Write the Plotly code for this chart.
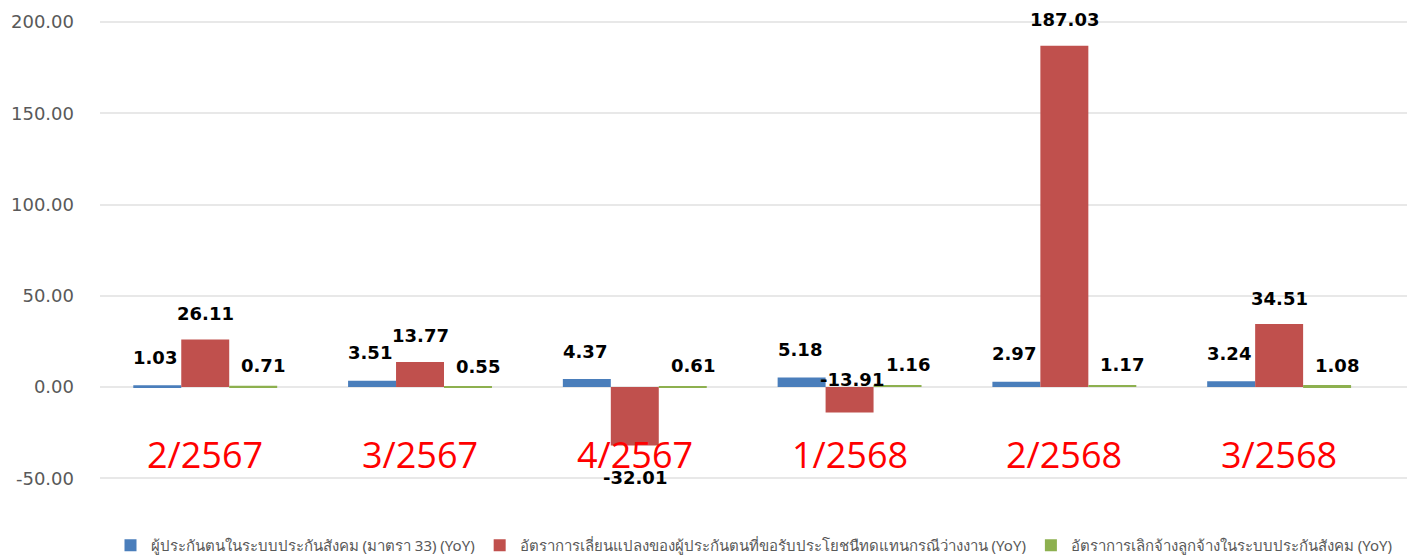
import plotly.graph_objects as go

categories = ["2/2567", "3/2567", "4/2567", "1/2568", "2/2568", "3/2568"]
series_names = [
    "ผู้ประกันตนในระบบประกันสังคม (มาตรา 33) (YoY)",
    "อัตราการเลี่ยนแปลงของผู้ประกันตนที่ขอรับประโยชนืทดแทนกรณีว่างงาน (YoY)",
    "อัตราการเลิกจ้างลูกจ้างในระบบประกันสังคม (YoY)",
]
insured = [1.03, 3.51, 4.37, 5.18, 2.97, 3.24]
unemployment_claims = [26.11, 13.77, -32.01, -13.91, 187.03, 34.51]
layoffs = [0.71, 0.55, 0.61, 1.16, 1.17, 1.08]
y_ticks = [-50, 0, 50, 100, 150, 200]

# styling
colors = ["#4A7EBB", "#C0504D", "#8DB04F"]
label_xshift = [-50, 0, 58]
label_yshift_pos = [28, 26, 20]

fig = go.Figure()
all_series = [insured, unemployment_claims, layoffs]
for name, vals, col in zip(series_names, all_series, colors):
    fig.add_trace(go.Bar(
        x=categories, y=vals, name=name,
        marker=dict(color=col, line=dict(width=0)),
        hoverinfo="x+y",
    ))

lab_font = dict(family="DejaVu Sans", size=18, color="#000000", weight="bold")
for si, vals in enumerate(all_series):
    for c, v in zip(categories, vals):
        if v >= 0:
            fig.add_annotation(x=c, y=v, xref="x", yref="y", text=f"{v:.2f}",
                               showarrow=False, font=lab_font,
                               xshift=label_xshift[si], yshift=label_yshift_pos[si])
        elif v < -20:
            fig.add_annotation(x=c, y=v, xref="x", yref="y", text=f"{v:.2f}",
                               showarrow=False, font=lab_font,
                               xshift=label_xshift[si], yshift=-32)
        else:
            fig.add_annotation(x=c, y=0, xref="x", yref="y", text=f"{v:.2f}",
                               showarrow=False, font=lab_font,
                               xshift=label_xshift[si] + 2, yshift=8)

for c in categories:
    fig.add_annotation(x=c, y=-37, xref="x", yref="y", text=c, showarrow=False,
                       font=dict(family="Open Sans", size=36, color="#FF0000"))

fig.update_layout(
    width=1415, height=558,
    barmode="group", bargap=0.33, bargroupgap=0,
    plot_bgcolor="white", paper_bgcolor="white",
    margin=dict(l=92, r=15, t=3, b=84, autoexpand=False),
    showlegend=True,
    legend=dict(orientation="h", x=0.5, xanchor="center", y=-0.1, yanchor="top",
                font=dict(family="Noto Sans, Tahoma, sans-serif", size=15, color="#595959"),
                itemwidth=30, traceorder="normal"),
    xaxis=dict(range=[-0.49, 5.6], showticklabels=False, showgrid=False, zeroline=False,
               showline=False, automargin=False),
    yaxis=dict(range=[-52, 206], tickvals=y_ticks, ticktext=[f"{v:.2f}" for v in y_ticks],
               showgrid=True, gridcolor="#E8E8E8", gridwidth=2, zeroline=False,
               showline=False, ticklabelstandoff=25, automargin=False,
               tickfont=dict(family="DejaVu Sans", size=18, color="#595959")),
)

fig.write_html("out.html")
